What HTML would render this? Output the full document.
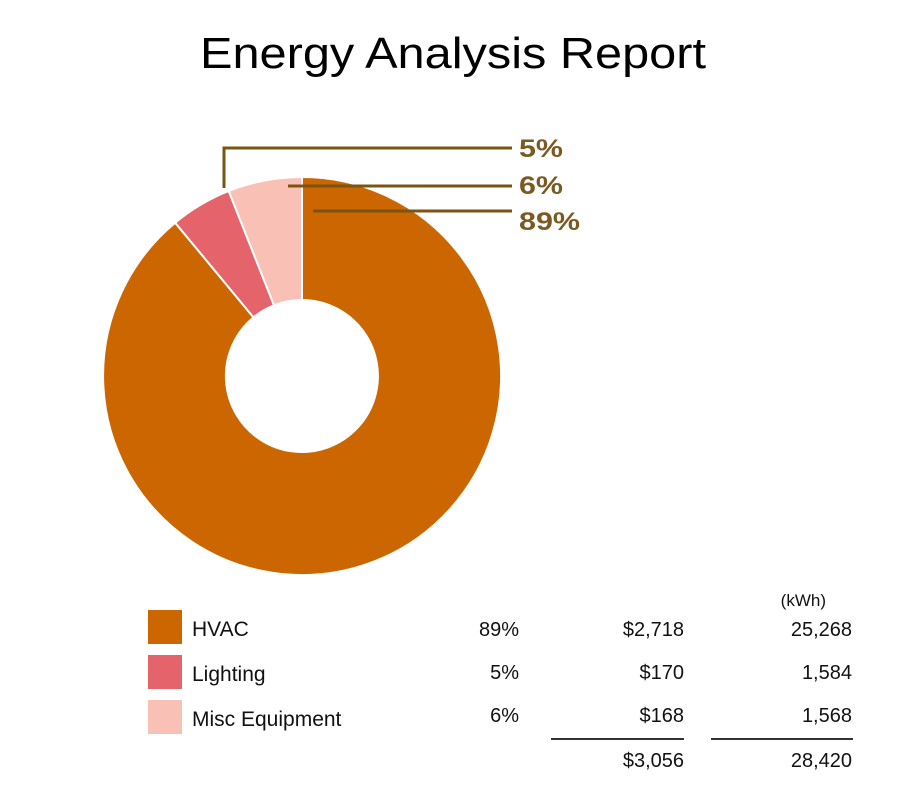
<!DOCTYPE html>
<html><head><style>
body{margin:0;background:#fff;width:903px;height:801px;overflow:hidden;font-family:"Liberation Sans",Arial,sans-serif}
</style></head><body>
<svg width="903" height="801" viewBox="0 0 903 801" xmlns="http://www.w3.org/2000/svg">
<text x="200" y="68" font-size="44" fill="#000" textLength="506" lengthAdjust="spacingAndGlyphs" font-family="Liberation Sans, sans-serif">Energy Analysis Report</text>
<g stroke="#fff" stroke-width="2">
<path d="M302 177 A199 199 0 1 1 175.2 222.7 L253.5 317.4 A76 76 0 1 0 302 300 Z" fill="#cc6600"/>
<path d="M175.2 222.7 A199 199 0 0 1 228.7 191 L274 305.3 A76 76 0 0 0 253.5 317.4 Z" fill="#e5636b"/>
<path d="M228.7 191 A199 199 0 0 1 302 177 L302 300 A76 76 0 0 0 274 305.3 Z" fill="#f9c0b6"/>
</g>
<g stroke="#7a5412" stroke-width="3" fill="none">
<path d="M224 188 V148 H512"/>
<path d="M288 186 H512"/>
<path d="M313 211 H512"/>
</g>
<g fill="#7a5a22" font-size="25" font-weight="bold">
<text x="519" y="157" textLength="44" lengthAdjust="spacingAndGlyphs">5%</text>
<text x="519" y="194" textLength="44" lengthAdjust="spacingAndGlyphs">6%</text>
<text x="519" y="230" textLength="61" lengthAdjust="spacingAndGlyphs">89%</text>
</g>
<rect x="148" y="610" width="34" height="34" fill="#cc6600"/>
<rect x="148" y="655" width="34" height="34" fill="#e5636b"/>
<rect x="148" y="700" width="34" height="34" fill="#f9c0b6"/>
<g font-size="21" fill="#111">
<text x="192" y="636">HVAC</text>
<text x="192" y="681">Lighting</text>
<text x="192" y="726">Misc Equipment</text>
</g>
<g font-size="20" fill="#111" text-anchor="end">
<text x="519" y="636">89%</text><text x="684" y="636">$2,718</text><text x="852" y="636">25,268</text>
<text x="519" y="679">5%</text><text x="684" y="679">$170</text><text x="852" y="679">1,584</text>
<text x="519" y="722">6%</text><text x="684" y="722">$168</text><text x="852" y="722">1,568</text>
<text x="684" y="767">$3,056</text><text x="852" y="767">28,420</text>
<text x="826" y="606" font-size="17">(kWh)</text>
</g>
<g stroke="#333" stroke-width="2">
<line x1="551" y1="739" x2="684" y2="739"/>
<line x1="711" y1="739" x2="853" y2="739"/>
</g>
</svg>
</body></html>
